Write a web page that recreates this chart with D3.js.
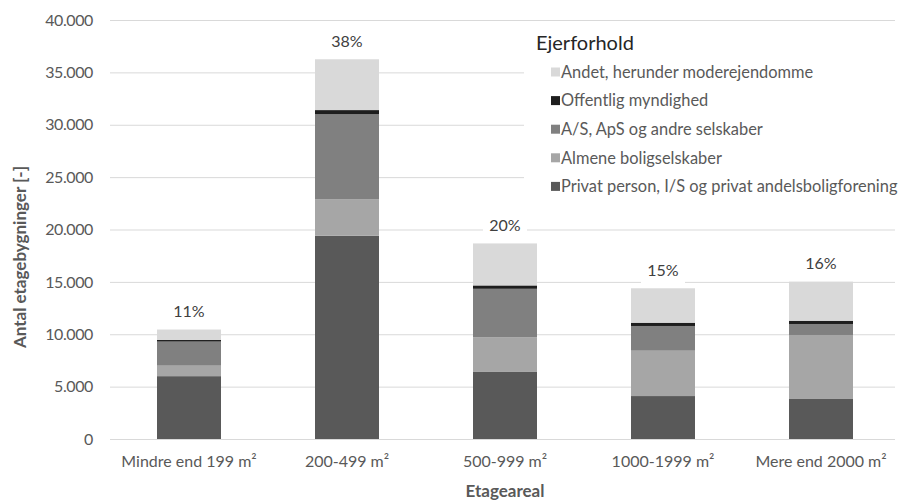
<!DOCTYPE html>
<html><head><meta charset="utf-8">
<script src="https://cdn.jsdelivr.net/npm/d3@7"></script>
<style>body{margin:0;background:#fff}svg{display:block}text{font-family:Lato,"Open Sans",sans-serif}</style>
</head><body><svg id="c" width="901" height="501"></svg>
<script>
const categories = ["Mindre end 199 m²", "200-499 m²", "500-999 m²", "1000-1999 m²", "Mere end 2000 m²"];
const seriesNames = ["Privat person, I/S og privat andelsboligforening", "Almene boligselskaber", "A/S, ApS og andre selskaber", "Offentlig myndighed", "Andet, herunder moderejendomme"];
const privat   = [6000, 19400, 6400, 4100, 3820];
const almene   = [1000, 3500, 3300, 4330, 6110];
const aps      = [2300, 8100, 4640, 2360, 1050];
const offentl  = [150, 400, 320, 310, 310];
const andet    = [1000, 4850, 4010, 3290, 3730];
const pctLabels = ["11%", "38%", "20%", "15%", "16%"];
const yTicks = [0, 5000, 10000, 15000, 20000, 25000, 30000, 35000, 40000];
const colors = ["#595959", "#a6a6a6", "#808080", "#1e1e1e", "#d9d9d9"];

const svg = d3.select("#c");
const x = d3.scaleBand().domain(categories).range([110, 900]).paddingInner(0.595).paddingOuter(0.2975);
const y = d3.scaleLinear().domain([0, 40000]).range([439, 20]);
const fmt = v => d3.format(",")(v).replace(/,/g, ".");

// gridlines
svg.append("g").selectAll("line").data(yTicks).join("line")
  .attr("x1", 110).attr("x2", 895).attr("y1", d => y(d)+0.5).attr("y2", d => y(d)+0.5)
  .attr("stroke", "#d9d9d9").attr("stroke-width", 1);

// y axis
const yAx = svg.append("g").attr("transform", "translate(110,0)")
  .call(d3.axisLeft(y).tickValues(yTicks).tickFormat(fmt).tickSize(0).tickPadding(17));
yAx.select(".domain").remove();
yAx.selectAll("text").attr("fill", "#595959").style("font-size", "16px").style("letter-spacing", "-0.4px").style("font-family", "Lato");

// stacked data
const rows = categories.map((c, i) => ({cat: c, s0: privat[i], s1: almene[i], s2: aps[i], s3: offentl[i], s4: andet[i]}));
const stack = d3.stack().keys(["s0", "s1", "s2", "s3", "s4"])(rows);
svg.append("g").selectAll("g").data(stack).join("g").attr("fill", (d, i) => colors[i])
  .selectAll("rect").data(d => d).join("rect")
  .attr("x", d => x(d.data.cat)).attr("width", x.bandwidth())
  .attr("y", d => y(d[1])).attr("height", d => y(d[0]) - y(d[1]));

// x axis
const xAx = svg.append("g").attr("transform", "translate(0,439)")
  .call(d3.axisBottom(x).tickSize(0).tickPadding(17));
xAx.select(".domain").remove();
xAx.selectAll("text").attr("fill", "#595959").style("font-size", "16px").style("font-family", "Lato");

// percent labels
const totals = rows.map(r => r.s0 + r.s1 + r.s2 + r.s3 + r.s4);
const lab = svg.append("g").selectAll("g").data(categories).join("g")
  .attr("transform", (c, i) => `translate(${x(c) + x.bandwidth()/2},${y(totals[i]) - 18})`);
lab.append("rect").attr("x", -22).attr("y", -12).attr("width", 44).attr("height", 25).attr("fill", "#fff");
lab.append("text").attr("text-anchor", "middle").attr("dy", "0.35em").attr("fill", "#404040")
  .style("font-size", "16px").text((c, i) => pctLabels[i]);

// legend
const lg = svg.append("g");
lg.append("rect").attr("x", 524).attr("y", 24).attr("width", 377).attr("height", 178).attr("fill", "#fff");
lg.append("text").attr("x", 536).attr("y", 43).attr("dy", "0.35em").attr("fill", "#262626")
  .style("font-size", "20px").text("Ejerforhold");
const order = [4, 3, 2, 1, 0];
const li = lg.selectAll("g.li").data(order).join("g").attr("class", "li")
  .attr("transform", (d, i) => `translate(551,${72 + i * 28.6})`);
li.append("rect").attr("x", 0).attr("y", -4.5).attr("width", 9).attr("height", 9).attr("fill", d => colors[d]);
li.append("text").attr("x", 10).attr("dy", "0.35em").attr("fill", "#595959").style("font-size", "16.4px")
  .text(d => seriesNames[d]);

// axis titles
svg.append("text").attr("transform", "translate(20,257) rotate(-90)").attr("text-anchor", "middle")
  .attr("dy", "0.35em").attr("fill", "#595959").style("font-size", "17px").style("font-weight", "bold")
  .text("Antal etagebygninger [-]");
svg.append("text").attr("x", 505).attr("y", 491).attr("text-anchor", "middle").attr("dy", "0.35em")
  .attr("fill", "#595959").style("font-size", "17px").style("font-weight", "bold").text("Etageareal");
</script></body></html>
